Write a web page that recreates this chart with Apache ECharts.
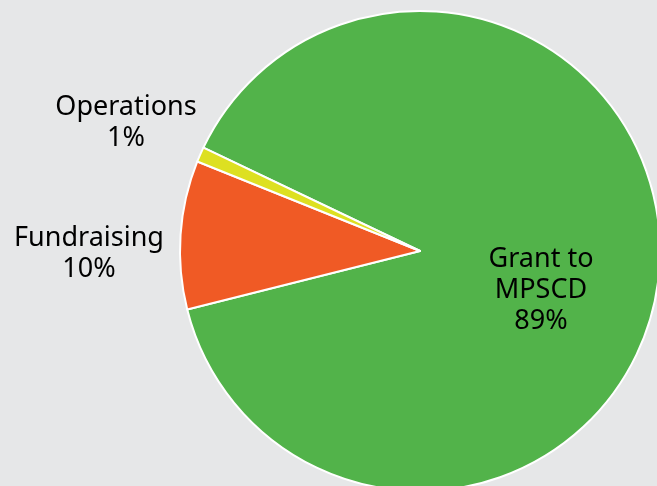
<!DOCTYPE html>
<html><head><meta charset="utf-8">
<script src="https://cdn.jsdelivr.net/npm/echarts@6/dist/echarts.min.js"></script>
<style>html,body{margin:0;padding:0;background:#e6e7e8;}#c{width:657px;height:486px;}</style>
</head><body><div id="c"></div>
<script>
const categories = ['Grant to\nMPSCD', 'Fundraising', 'Operations'];
const values = [89, 10, 1];
const colors = ['#52b34a', '#f05a25', '#dde021'];
const labelPos = [[541, 290], [89, 254], [126, 123]];

const chart = echarts.init(document.getElementById('c'));
chart.setOption({
  backgroundColor: '#e6e7e8',
  animation: false,
  series: [{
    type: 'pie',
    center: [420, 251],
    radius: 240,
    startAngle: 154.5,
    clockwise: true,
    data: categories.map((n, i) => ({name: n, value: values[i], itemStyle: {color: colors[i]}})),
    itemStyle: {borderColor: '#ffffff', borderWidth: 2},
    label: {
      show: true,
      position: 'inside',
      overflow: 'none',
      formatter: p => p.name + '\n' + p.value + '%',
      color: '#000',
      fontFamily: 'Noto Sans',
      fontSize: 27,
      lineHeight: 31,
      align: 'center'
    },
    labelLine: {show: false},
    labelLayout: p => ({x: labelPos[p.dataIndex][0], y: labelPos[p.dataIndex][1], align: 'center', verticalAlign: 'middle', hideOverlap: false})
  }]
});
</script></body></html>
